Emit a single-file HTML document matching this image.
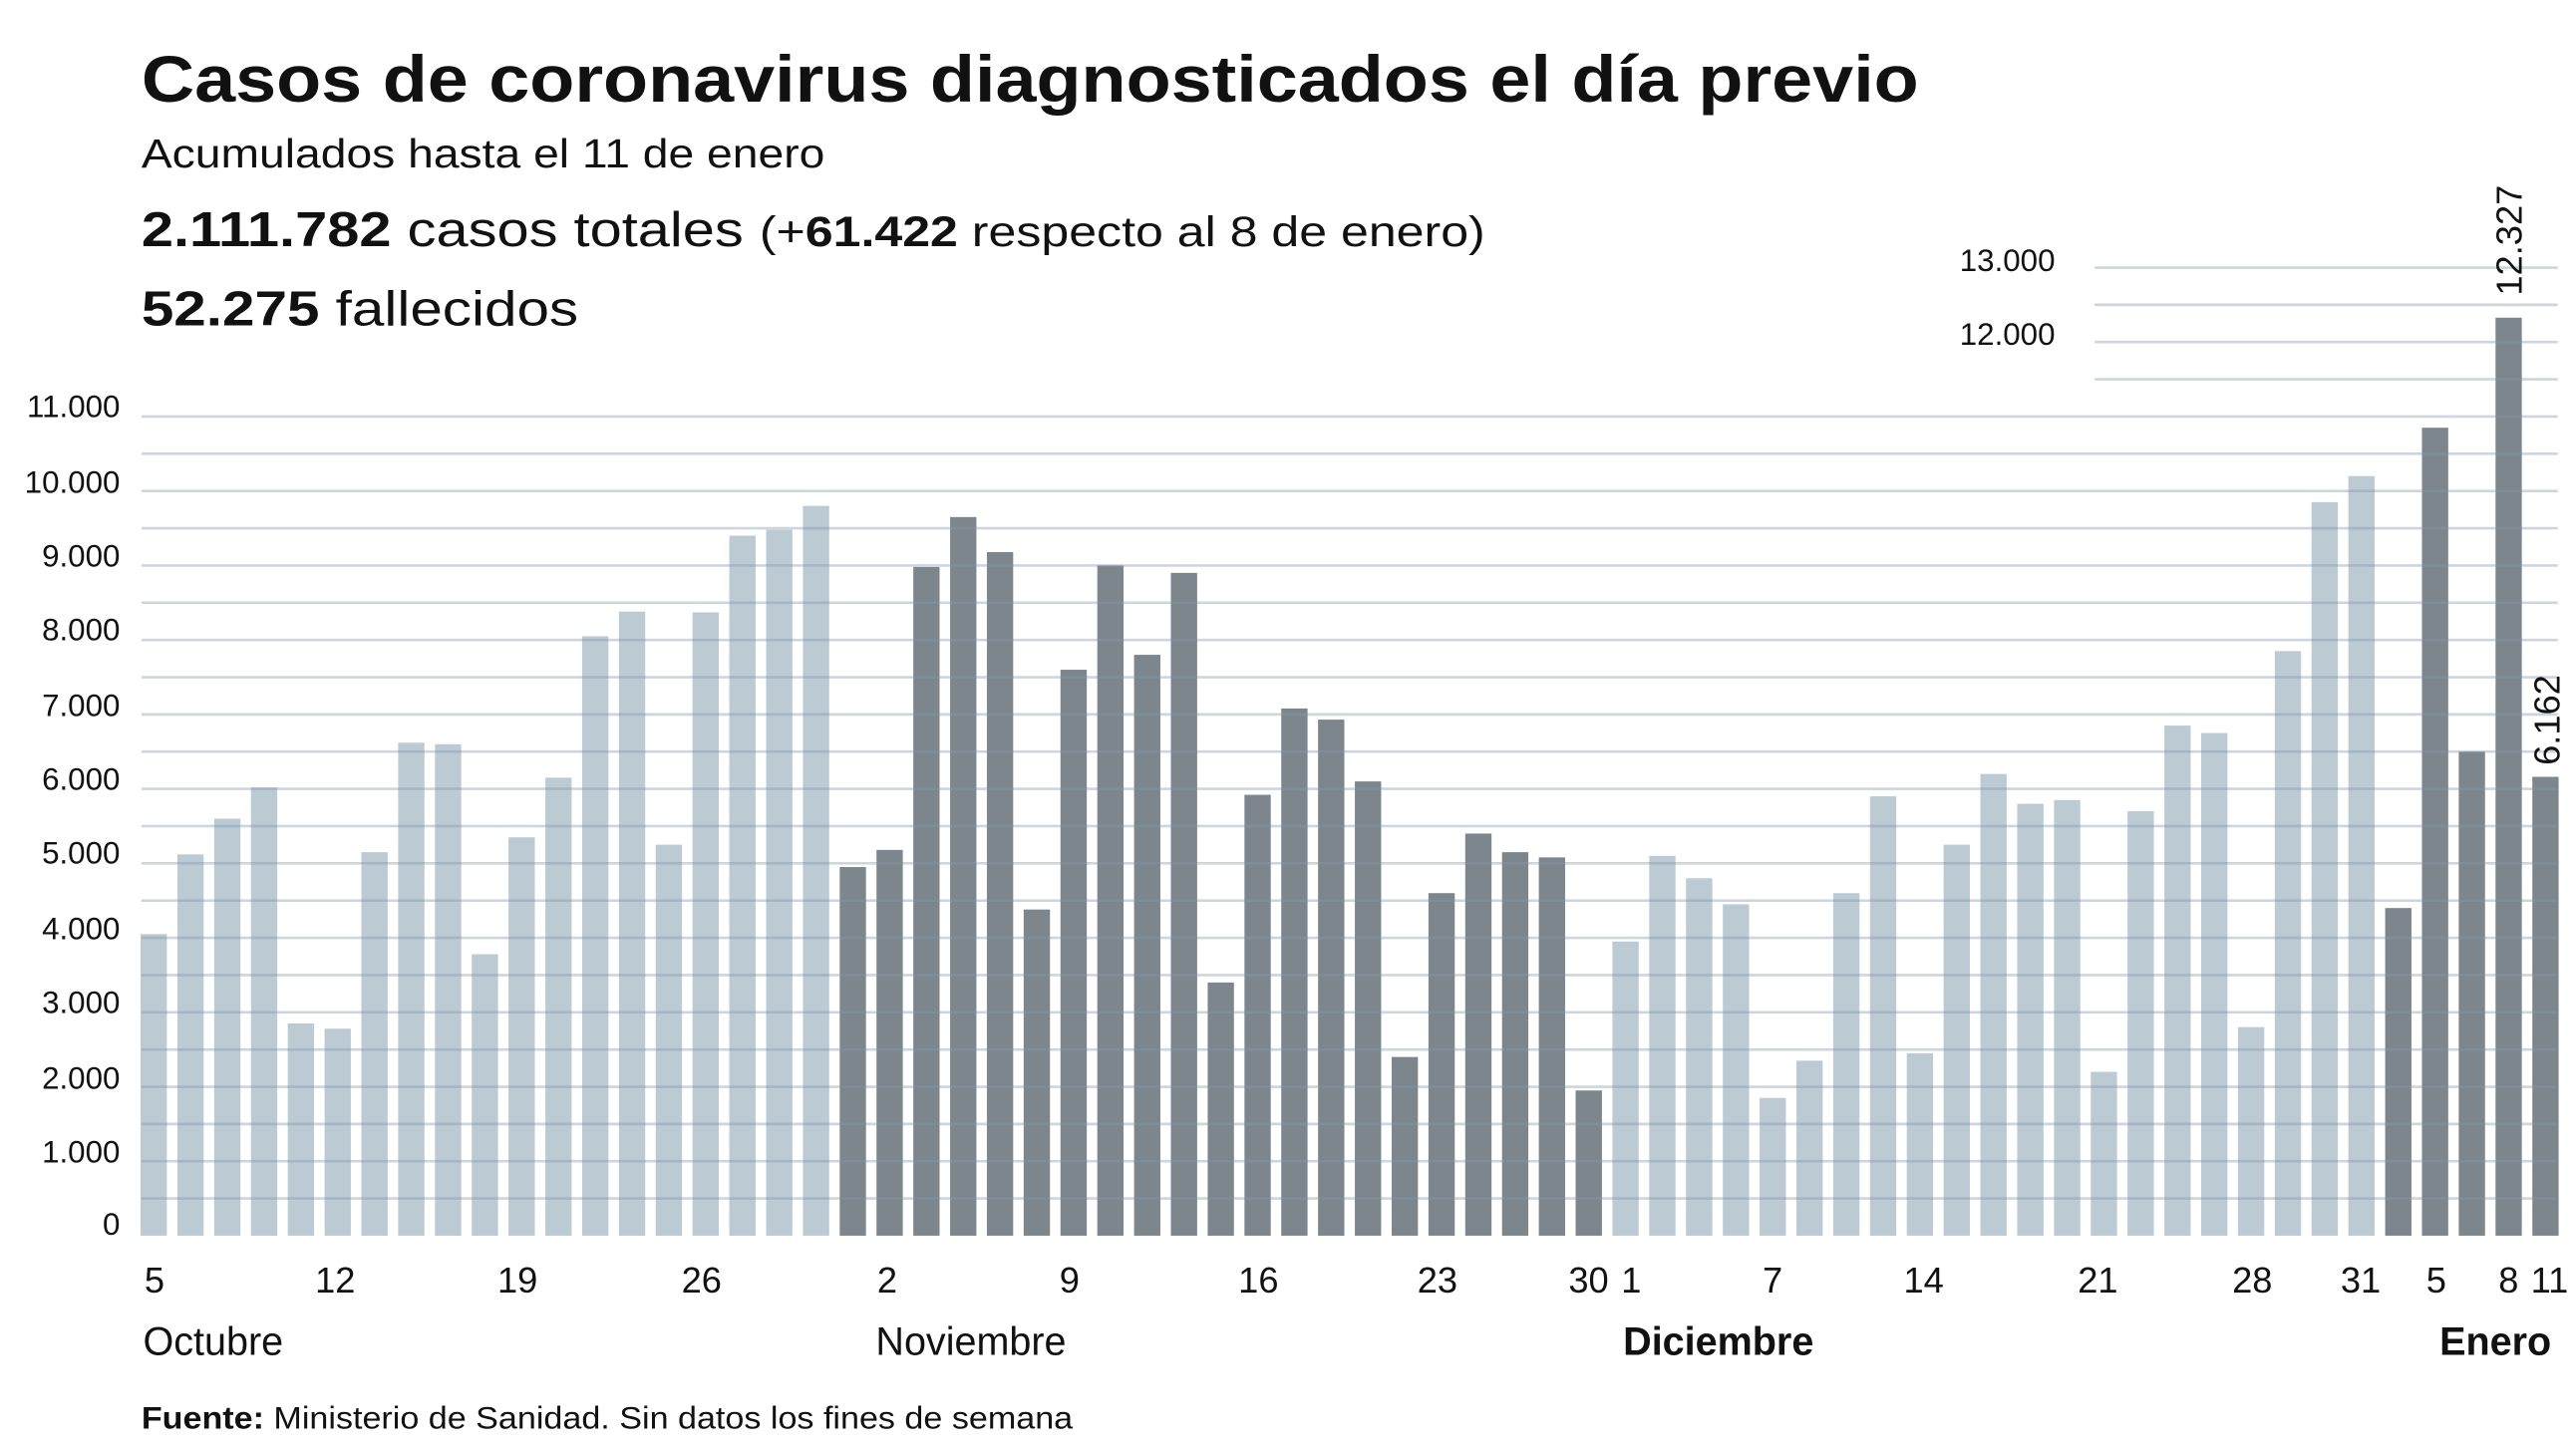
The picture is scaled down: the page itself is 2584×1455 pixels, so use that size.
<!DOCTYPE html>
<html><head><meta charset="utf-8"><style>
html,body{margin:0;padding:0;background:#fff}
svg{display:block}
text{font-family:"Liberation Sans",Arial,sans-serif;fill:#111}
</style></head><body>
<svg width="2584" height="1455" viewBox="0 0 1568 883" xmlns="http://www.w3.org/2000/svg">
<text x="86" y="62" font-size="40" font-weight="bold" textLength="1082" lengthAdjust="spacingAndGlyphs">Casos de coronavirus diagnosticados el día previo</text>
<text x="86" y="102" font-size="25" textLength="416" lengthAdjust="spacingAndGlyphs">Acumulados hasta el 11 de enero</text>
<text x="86" y="150" font-size="30" textLength="818" lengthAdjust="spacingAndGlyphs"><tspan font-weight="bold">2.111.782</tspan> casos totales <tspan font-size="26">(+<tspan font-weight="bold">61.422</tspan> respecto al 8 de enero)</tspan></text>
<text x="86" y="198" font-size="30" textLength="266" lengthAdjust="spacingAndGlyphs"><tspan font-weight="bold">52.275</tspan> fallecidos</text>
<g id="bars"></g>
<g id="grid"></g>
<g font-size="19" text-anchor="end">
<text x="73" y="752">0</text><text x="73" y="708">1.000</text><text x="73" y="663">2.000</text><text x="73" y="617">3.000</text><text x="73" y="572">4.000</text><text x="73" y="526">5.000</text><text x="73" y="481">6.000</text><text x="73" y="436">7.000</text><text x="73" y="390">8.000</text><text x="73" y="345">9.000</text><text x="73" y="300">10.000</text><text x="73" y="254">11.000</text>
<text x="1251" y="210">12.000</text><text x="1251" y="165">13.000</text>
</g>
<text font-size="22" transform="translate(1535,180) rotate(-90)">12.327</text>
<text font-size="22" transform="translate(1558,466) rotate(-90)">6.162</text>
<g font-size="22" text-anchor="middle">
<text x="94" y="787">5</text><text x="204" y="787">12</text><text x="315" y="787">19</text><text x="427" y="787">26</text><text x="540" y="787">2</text><text x="651" y="787">9</text><text x="766" y="787">16</text><text x="875" y="787">23</text><text x="967" y="787">30</text><text x="993" y="787">1</text><text x="1079" y="787">7</text><text x="1171" y="787">14</text><text x="1277" y="787">21</text><text x="1371" y="787">28</text><text x="1437" y="787">31</text><text x="1483" y="787">5</text><text x="1527" y="787">8</text><text x="1552" y="787">11</text>
</g>
<g font-size="24">
<text x="87" y="825">Octubre</text><text x="533" y="825">Noviembre</text>
<text x="988" y="825" font-weight="bold">Diciembre</text><text x="1485" y="825" font-weight="bold">Enero</text>
</g>
<text x="86" y="870" font-size="19" textLength="567" lengthAdjust="spacingAndGlyphs"><tspan font-weight="bold">Fuente:</tspan> Ministerio de Sanidad. Sin datos los fines de semana</text>
</svg>
<script>
var v=[4050,5120,5600,6020,2850,2780,5150,6620,6600,3780,5350,6150,8050,8380,5250,8370,9400,9480,9800,
4950,5180,8980,9650,9180,4380,7600,9000,7800,8900,3400,5920,7080,6930,6100,2400,4600,5400,5150,5080,1950,
3950,5100,4800,4450,1850,2350,4600,5900,2450,5250,6200,5800,5850,2200,5700,6850,6750,2800,7850,9850,10200,
4400,10850,6500,12327,6162];
var ns="http://www.w3.org/2000/svg",b=document.getElementById("bars"),g=document.getElementById("grid");
var Z=752.5,S=0.04535;
v.forEach(function(d,i){var r=document.createElementNS(ns,"rect");var cx=93.5+i*22.4;
var dark=(i>=19&&i<40)||i>=61;
r.setAttribute("x",cx-8);r.setAttribute("width",16);r.setAttribute("y",Z-d*S);r.setAttribute("height",d*S);
r.setAttribute("fill",dark?"#7d868c":"#bccad4");b.appendChild(r);});
for(var k=500;k<=13000;k+=500){var l=document.createElementNS(ns,"line");var y=Z-k*S;
l.setAttribute("x1",k>11000?1275:86);l.setAttribute("x2",1557);l.setAttribute("y1",y);l.setAttribute("y2",y);
l.setAttribute("stroke","rgba(130,152,168,0.4)");l.setAttribute("stroke-width","1.6");g.appendChild(l);}
</script>
</body></html>
